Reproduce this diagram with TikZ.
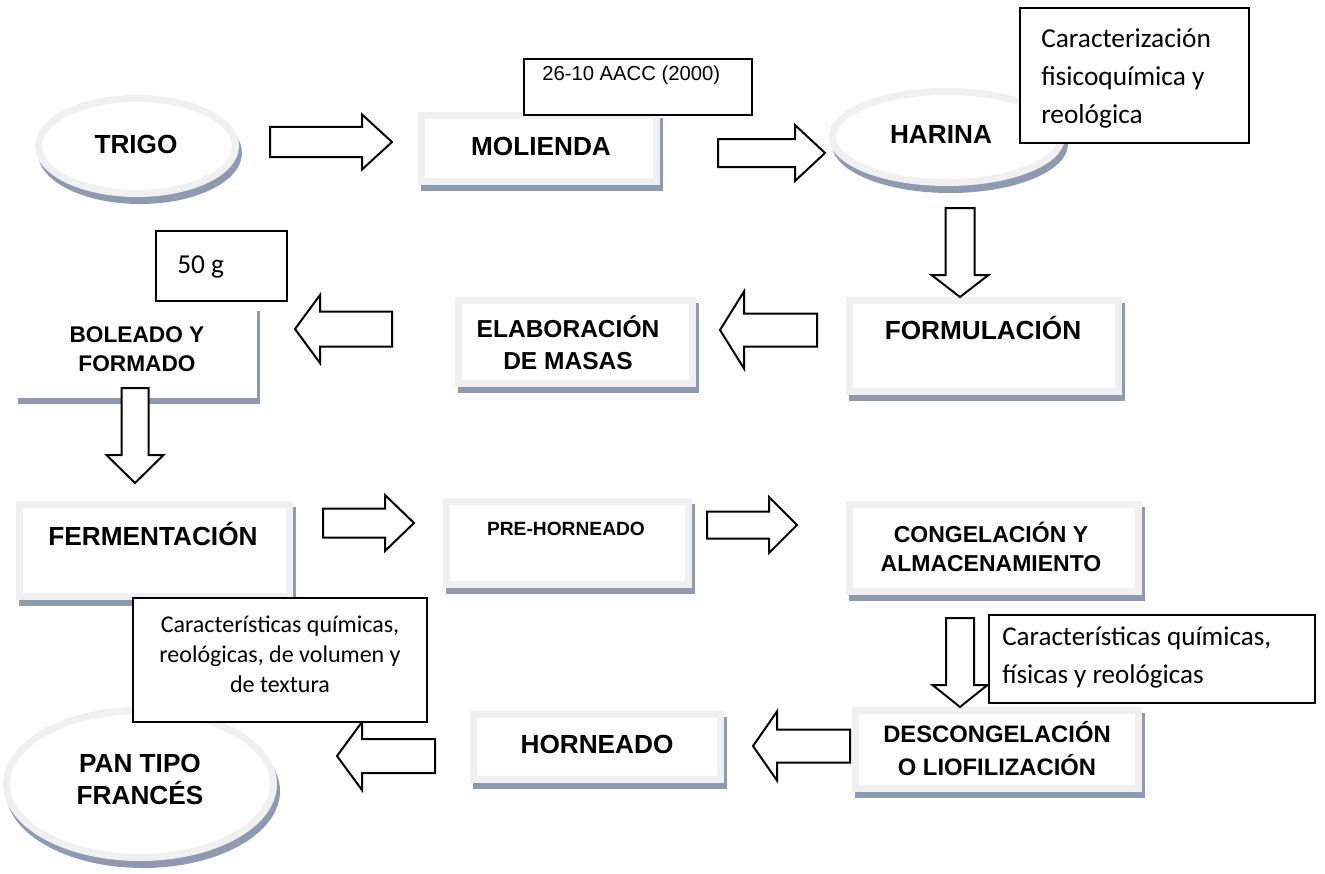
\documentclass[tikz,border=0pt]{standalone}
\usepackage{fontspec}
\setmainfont{Liberation Sans}
\newfontfamily\calibri{Carlito}
\usetikzlibrary{backgrounds,shapes.geometric}
\definecolor{bandc}{RGB}{240,240,241}
\definecolor{shadowc}{RGB}{141,154,178}
\tikzset{
  procbox/.style={rectangle, draw=bandc, line width=5.25pt, fill=white, inner sep=0pt},
  hiddenbox/.style={rectangle, draw=white, line width=5.25pt, fill=white, inner sep=0pt},
  procell/.style={ellipse, draw=bandc, line width=5.25pt, fill=white, inner sep=0pt},
  blockarr/.style={draw=black, line width=1.5pt, fill=white, line join=miter},
  notebox/.style={rectangle, draw=black, line width=1.5pt, fill=white, inner sep=0pt},
  lbl/.style={inner sep=0pt, anchor=base, align=center, text=black},
  bigtxt/.style={lbl, font=\fontsize{19.65}{24}\selectfont\bfseries},
  notetxt/.style={inner sep=0pt, anchor=base west, align=left, text=black}
}
% process box: name, x1, y1, x2, y2 (outer extents in px), style
\newcommand\pbox[6][procbox]{%
  \node[#1, minimum width={(#5-#3-7)*0.75pt}, minimum height={(#6-#4-7)*0.75pt}] (#2) at ({(#3+#5)/2},{(#4+#6)/2}) {};
  \begin{scope}[on background layer]
    \fill[shadowc] ([shift={(3,6)}]#2.north west) rectangle ([shift={(3,6)}]#2.south east);
  \end{scope}}
% process ellipse: name, cx, cy, rx, ry
\newcommand\pell[5]{%
  \node[procell, minimum width={(2*#4-7)*0.75pt}, minimum height={(2*#5-7)*0.75pt}] (#1) at (#2,#3) {};
  \begin{scope}[on background layer]
    \fill[shadowc] ([shift={(3,7)}]#1.center) ellipse [x radius=#4, y radius=#5];
  \end{scope}}
% horizontal block arrow: xs, xb, xt, yc, shaft half, head half
\newcommand\harr[6]{%
  \draw[blockarr] (#1,#4-#5) -- (#2,#4-#5) -- (#2,#4-#6) -- (#3,#4) -- (#2,#4+#6) -- (#2,#4+#5) -- (#1,#4+#5) -- cycle;}
% vertical block arrow: ys, yb, yt, xc, shaft half, head half
\newcommand\varr[6]{%
  \draw[blockarr] (#4-#5,#1) -- (#4-#5,#2) -- (#4-#6,#2) -- (#4,#3) -- (#4+#6,#2) -- (#4+#5,#2) -- (#4+#5,#1) -- cycle;}
% note box: name, x1, y1, x2, y2
\newcommand\nbox[5]{%
  \node[notebox, minimum width={(#4-#2-2)*0.75pt}, minimum height={(#5-#3-2)*0.75pt}] (#1) at ({(#2+#4)/2},{(#3+#5)/2}) {};}
\begin{document}
\begin{tikzpicture}[x=0.75pt,y=-0.75pt]
\useasboundingbox (0,0) rectangle (1325,874);

% ---- process shapes ----
\pell{trigo}{137}{146}{102}{51}
\pell{harina}{947}{137}{118}{49}
\pell{pan}{140}{784}{137}{77}
\pbox{molienda}{418}{112}{660}{185}
\pbox{formulacion}{846}{297}{1122}{395}
\pbox{elaboracion}{455}{297}{696}{387}
\pbox[hiddenbox]{boleado}{15}{305}{257}{398}
\pbox{fermentacion}{16}{501}{293}{600}
\pbox{prehorneado}{443}{498}{692}{588}
\pbox{congelacion}{846}{501}{1142}{595}
\pbox{descongelacion}{852}{707}{1142}{792}
\pbox{horneado}{470}{711}{724}{783}

% ---- labels (multi-line: position = baseline of last line) ----
\node[bigtxt] (trigo-t) at (136,153) {TRIGO};
\node[bigtxt] (molienda-t) at (541,155) {MOLIENDA};
\node[bigtxt] (harina-t) at (941,143) {HARINA};
\node[bigtxt] (formulacion-t) at (983,339) {FORMULACIÓN};
\node[lbl, font=\fontsize{18.4}{24}\selectfont\bfseries] (elaboracion-t) at (568,369) {ELABORACIÓN\\DE MASAS};
\node[lbl, font=\fontsize{17}{21.75}\selectfont\bfseries] (boleado-t) at (137,371) {BOLEADO Y\\FORMADO};
\node[bigtxt] (fermentacion-t) at (153,545) {FERMENTACIÓN};
\node[lbl, font=\fontsize{14.4}{18}\selectfont\bfseries] (prehorneado-t) at (566,535) {PRE-HORNEADO};
\node[lbl, font=\fontsize{17.25}{21.5}\selectfont\bfseries] (congelacion-t) at (991,571) {CONGELACIÓN Y\\ALMACENAMIENTO};
\node[lbl, font=\fontsize{17.85}{24.75}\selectfont\bfseries] (descongelacion-t) at (997,775) {DESCONGELACIÓN\\O LIOFILIZACIÓN};
\node[bigtxt] (horneado-t) at (597,753) {HORNEADO};
\node[bigtxt] (pan-t) at (140,804) {PAN TIPO\\FRANCÉS};

% ---- block arrows ----
\harr{270}{362}{392}{142}{15}{27.5}
\harr{718}{795}{825}{153}{14}{28}
\varr{208}{275}{297}{960}{14.5}{28.5}
\harr{817}{744}{720}{330}{16.5}{38.5}
\harr{392}{320}{295}{329}{17.5}{34}
\varr{388}{455}{483}{135}{13.5}{28.5}
\harr{323}{385}{414}{523}{14.5}{28}
\harr{707}{769}{797}{525}{13.5}{28}
\varr{618}{685}{707}{960}{14}{27.5}
\harr{850}{777}{753}{746}{16.5}{34.5}
\harr{435}{362}{337}{756}{17}{34}

% ---- note boxes ----
\nbox{aacc}{523}{58}{753}{116}
\node[notetxt, font=\fontsize{15.2}{18}\selectfont] (aacc-t) at (542,80) {26-10 AACC (2000)};
\nbox{caract}{1019}{7}{1250}{144}
\node[notetxt, font=\calibri\fontsize{20.5}{28.5}\selectfont] (caract-t) at (1041,123) {Caracterización\\fisicoquímica y\\reológica};
\nbox{peso}{155}{230}{288}{302}
\node[notetxt, font=\calibri\fontsize{20.5}{24}\selectfont] (peso-t) at (177,273) {50 g};
\nbox{carpan}{132}{597}{428}{723}
\node[lbl, font=\calibri\fontsize{18}{22.5}\selectfont] (carpan-t) at (280,692) {Características químicas,\\reológicas, de volumen y\\de textura};
\nbox{carcong}{988}{614}{1316}{704}
\node[notetxt, font=\calibri\fontsize{20.3}{28.5}\selectfont] (carcong-t) at (1002,683) {Características químicas,\\físicas y reológicas};
\end{tikzpicture}
\end{document}
